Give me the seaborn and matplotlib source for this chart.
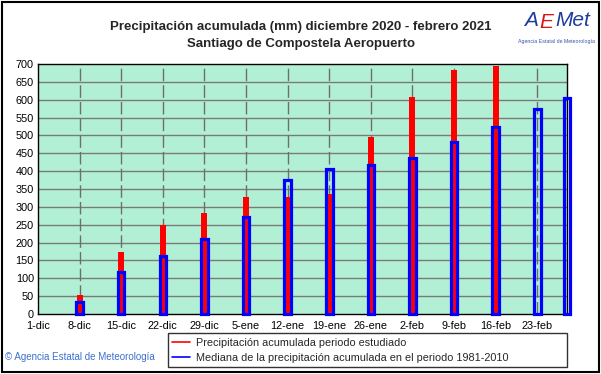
import numpy as np
import pandas as pd
import matplotlib
matplotlib.use("Agg")
import matplotlib.pyplot as plt
import seaborn as sns
from matplotlib.lines import Line2D

# days counted from 1-dic
tick_days = [0, 7, 14, 21, 28, 35, 42, 49, 56, 63, 70, 77, 84]
tick_labels = ["1-dic", "8-dic", "15-dic", "22-dic", "29-dic", "5-ene", "12-ene",
               "19-ene", "26-ene", "2-feb", "9-feb", "16-feb", "23-feb"]

obs_days = [7, 14, 21, 28, 35, 42, 49, 56, 63, 70, 77]
obs_vals = [53, 174, 248, 283, 328, 328, 336, 495, 607, 683, 695]  # periodo estudiado

med_days = [7, 14, 21, 28, 35, 42, 49, 56, 63, 70, 77, 84, 89]
med_vals = [33, 118, 163, 209, 272, 376, 405, 418, 436, 483, 525, 575, 606]  # mediana 1981-2010

obs = pd.DataFrame({"dia": obs_days, "mm": obs_vals})
med = pd.DataFrame({"dia": med_days, "mm": med_vals})

sns.set_style("white")
plt.rcParams["font.family"] = ["Liberation Sans", "DejaVu Sans"]

fig = plt.figure(figsize=(6.01, 3.74), dpi=100)
ax = fig.add_axes([38/601, (374-314)/374, 529/601, 250/374])
ax.set_facecolor("#b2f0d6")

# grid
for v in range(50, 700, 50):
    ax.axhline(v, color="#7a7a7a", lw=1.0, zorder=1)
for d in tick_days[1:]:
    ax.axvline(d, color="#6e6e6e", lw=1.0, dashes=(9, 3), zorder=1)

# red bars: observed (native width 7 -> 1 day)
sns.barplot(data=obs, x="dia", y="mm", native_scale=True, width=1/7,
            color="#ff0000", errorbar=None, ax=ax, zorder=3, linewidth=0,
            saturation=1)
# blue outlined bars: median (native width 5 -> 1.1 day)
sns.barplot(data=med, x="dia", y="mm", native_scale=True, width=1.1/5,
            fill=False, color="#0000ff", errorbar=None, ax=ax, zorder=4,
            linewidth=2.3, saturation=1)
for p in ax.patches:
    p.set_clip_on(False)

ax.set_xlim(0, 89)
ax.set_ylim(0, 700)
ax.set_yticks(range(0, 701, 50))
ax.set_xticks(tick_days)
ax.set_xticklabels(tick_labels)
ax.tick_params(axis="both", length=0, labelsize=7.8, colors="black")
ax.tick_params(axis="x", pad=5)
ax.tick_params(axis="y", pad=3)
ax.set_xlabel("")
ax.set_ylabel("")
for s in ax.spines.values():
    s.set_color("black")
    s.set_linewidth(1.0)
    s.set_visible(True)

# titles
fig.text(301/601, 1 - 27/374, "Precipitación acumulada (mm) diciembre 2020 - febrero 2021",
         ha="center", va="center", fontsize=9.5, fontweight="bold")
fig.text(301/601, 1 - 44/374, "Santiago de Compostela Aeropuerto",
         ha="center", va="center", fontsize=9.5, fontweight="bold")

# logo
fig.text(524/601, 1 - 21/374, "A", color="#1d3c9c", fontsize=15, style="italic",
         ha="left", va="center")
fig.text(539/601, 1 - 22/374, "E", color="#d8141c", fontsize=15, style="italic",
         ha="left", va="center")
fig.text(555/601, 1 - 21/374, "Met", color="#1d3c9c", fontsize=15, style="italic",
         ha="left", va="center")
fig.text(556/601, 1 - 42/374, "Agencia Estatal de Meteorología", color="#3a55b0",
         fontsize=3.8, ha="center", va="center")

# copyright
fig.text(5/601, 1 - 357/374, "© Agencia Estatal de Meteorología", color="#3d6fd0",
         fontsize=7, ha="left", va="center")

# legend
handles = [Line2D([], [], color="#ff0000", lw=1.2),
           Line2D([], [], color="#0000ff", lw=1.2)]
labels = ["Precipitación acumulada periodo estudiado",
          "Mediana de la precipitación acumulada en el periodo 1981-2010"]
leg = fig.legend(handles, labels, loc="lower left",
                 bbox_to_anchor=(168/601, 1 - 367/374, (567-168)/601, 34/374),
                 mode="expand", fontsize=7.8, frameon=True, fancybox=False,
                 handlelength=1.6, handletextpad=0.6, borderpad=0.4,
                 labelspacing=0.45, borderaxespad=0)
leg.get_frame().set_edgecolor("black")
leg.get_frame().set_linewidth(1.0)

# outer frame
fig.patches.append(plt.Rectangle((2/601, 2/374), 597/601, 370/374, transform=fig.transFigure,
                                 fill=False, edgecolor="black", lw=1.5))

fig.savefig("out.png", dpi=100)
